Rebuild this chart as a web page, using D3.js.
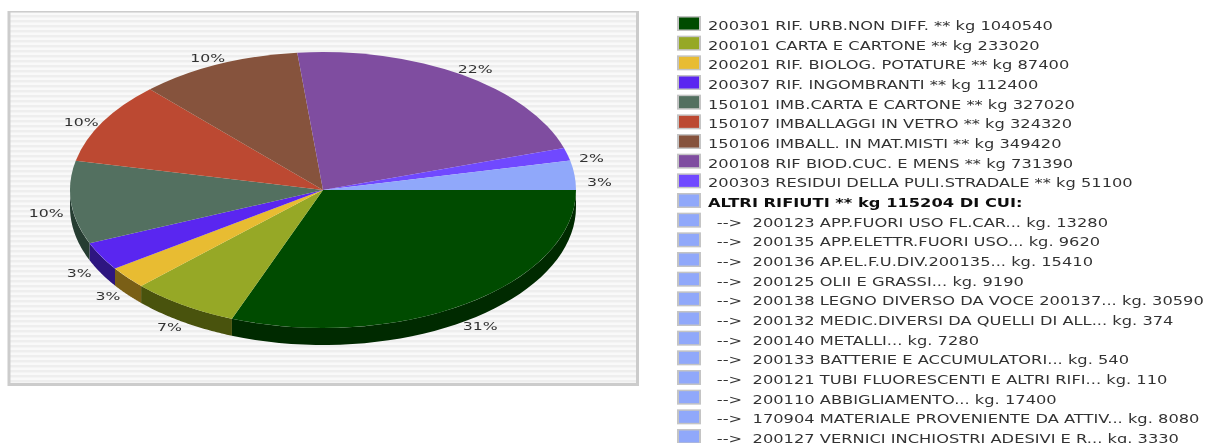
<!DOCTYPE html>
<html>
<head>
<meta charset="utf-8">
<script src="https://cdn.jsdelivr.net/npm/d3@7"></script>
<style>
  html, body { margin: 0; padding: 0; background: #fff; overflow: hidden; }
  svg { display: block; }
  text { font-family: "DejaVu Sans", sans-serif; }
</style>
</head>
<body>
<svg width="1209" height="443"></svg>
<script>
(function () {

	// slices, clockwise from 3 o'clock
	var sliceValues = [1040540, 233020, 87400, 112400, 327020, 324320, 349420, 731390, 51100, 115204];
	var sliceColors = ["#044c04", "#96a826", "#e8bc30", "#5a27f0", "#527060", "#bc4a30", "#86533c", "#7f4ea0", "#7048ff", "#90a8fa"];
	var sideColors = ["#002a00", "#4a5210", "#7a5f18", "#2e1480", "#263d33", "#5e2518", "#43291e", "#3f2750", "#382480", "#48547d"];
	var sliceLabels = ["31%", "7%", "3%", "3%", "10%", "10%", "10%", "22%", "2%", "3%"];

	var legendLabels = [
		"200301 RIF. URB.NON DIFF. ** kg 1040540",
		"200101 CARTA E CARTONE ** kg 233020",
		"200201 RIF. BIOLOG. POTATURE ** kg 87400",
		"200307 RIF. INGOMBRANTI ** kg 112400",
		"150101 IMB.CARTA E CARTONE ** kg 327020",
		"150107 IMBALLAGGI IN VETRO ** kg 324320",
		"150106 IMBALL. IN MAT.MISTI ** kg 349420",
		"200108 RIF BIOD.CUC. E MENS ** kg 731390",
		"200303 RESIDUI DELLA PULI.STRADALE ** kg 51100",
		"ALTRI RIFIUTI ** kg 115204 DI CUI:",
		"  -->  200123 APP.FUORI USO FL.CAR... kg. 13280",
		"  -->  200135 APP.ELETTR.FUORI USO... kg. 9620",
		"  -->  200136 AP.EL.F.U.DIV.200135... kg. 15410",
		"  -->  200125 OLII E GRASSI... kg. 9190",
		"  -->  200138 LEGNO DIVERSO DA VOCE 200137... kg. 30590",
		"  -->  200132 MEDIC.DIVERSI DA QUELLI DI ALL... kg. 374",
		"  -->  200140 METALLI... kg. 7280",
		"  -->  200133 BATTERIE E ACCUMULATORI... kg. 540",
		"  -->  200121 TUBI FLUORESCENTI E ALTRI RIFI... kg. 110",
		"  -->  200110 ABBIGLIAMENTO... kg. 17400",
		"  -->  170904 MATERIALE PROVENIENTE DA ATTIV... kg. 8080",
		"  -->  200127 VERNICI INCHIOSTRI ADESIVI E R... kg. 3330"
	];
	var legendColors = sliceColors.concat(d3.range(12).map(function () { return "#90a8fa"; }));

	var svg = d3.select("svg");

	var defs = svg.append("defs");
	defs.append("filter").attr("id", "soft")
		.attr("x", "-5%").attr("y", "-5%").attr("width", "110%").attr("height", "110%")
		.append("feGaussianBlur").attr("stdDeviation", 0.5);

	var pattern = defs.append("pattern").attr("id", "stripes")
		.attr("patternUnits", "userSpaceOnUse")
		.attr("width", 10).attr("height", 5);
	pattern.append("rect").attr("width", 10).attr("height", 5).attr("fill", "#f9f9f9");
	pattern.append("rect").attr("width", 10).attr("height", 2.4).attr("fill", "#eeeeee");

	// panel
	var panel = svg.append("g").attr("filter", "url(#soft)");
	panel.append("rect").attr("x", 7.5).attr("y", 11).attr("width", 631.5).attr("height", 375).attr("fill", "#ccc");
	panel.append("rect").attr("x", 10.5).attr("y", 12.5).attr("width", 625.5).attr("height", 370.5).attr("fill", "url(#stripes)");

	// pie
	var cx = 323, cy = 190, rx = 253, ry = 138, depth = 17;

	var pie = d3.pie().sort(null).value(function (d) { return d; })
		.startAngle(Math.PI / 2).endAngle(Math.PI / 2 + 2 * Math.PI);
	var arcs = pie(sliceValues);

	var arc = d3.arc().innerRadius(0).outerRadius(rx);

	// d3 angle -> point on the ellipse
	function px(a) { return cx + rx * Math.sin(a); }
	function py(a) { return cy - ry * Math.cos(a); }

	// wall under the front half of the pie, only where it can be seen
	function sidePath(d) {
		var a0 = Math.max(d.startAngle, Math.PI / 2);
		var a1 = Math.min(d.endAngle, 3 * Math.PI / 2);
		if (a1 <= a0) return null;
		var steps = d3.range(0, 41).map(function (i) { return a0 + (a1 - a0) * i / 40; });
		var top = steps.map(function (a) { return [px(a), py(a)]; });
		var bottom = steps.slice().reverse().map(function (a) { return [px(a), py(a) + depth]; });
		return d3.line()(top.concat(bottom)) + "Z";
	}

	var pieG = svg.append("g").attr("filter", "url(#soft)");

	pieG.selectAll("path.side")
		.data(arcs)
		.enter()
		.append("path")
		.attr("class", "side")
		.attr("d", sidePath)
		.attr("fill", function (d, i) { return sideColors[i]; });

	pieG.append("g")
		.attr("transform", "translate(" + cx + "," + cy + ") scale(1," + (ry / rx) + ")")
		.selectAll("path.slice")
		.data(arcs)
		.enter()
		.append("path")
		.attr("class", "slice")
		.attr("d", arc)
		.attr("fill", function (d, i) { return sliceColors[i]; });

	// percent labels sit just outside the rim, lower toward the front
	var labelG = svg.append("g").attr("filter", "url(#soft)");
	labelG.selectAll("text")
		.data(arcs)
		.enter()
		.append("text")
		.attr("text-anchor", "middle")
		.attr("fill", "#333")
		.attr("font-size", 11)
		.attr("transform", function (d) {
			var a = (d.startAngle + d.endAngle) / 2;
			var lx = cx + (rx + 25) * Math.sin(a);
			var ly = cy - (ry + 8) * Math.cos(a) + depth * (0.5 - 0.5 * Math.cos(a));
			return "translate(" + lx + "," + (ly + 4) + ") scale(1.43,1)";
		})
		.text(function (d, i) { return sliceLabels[i]; });

	// legend
	var rowY = d3.scaleLinear().domain([0, 21]).range([24, 437]);

	var rows = svg.append("g").attr("filter", "url(#soft)")
		.selectAll("g")
		.data(legendLabels)
		.enter()
		.append("g")
		.attr("transform", function (d, i) { return "translate(0," + rowY(i) + ")"; });

	rows.append("rect")
		.attr("x", 677).attr("y", -8).attr("width", 24).attr("height", 15)
		.attr("fill", "#c4c4c4");
	rows.append("rect")
		.attr("x", 679).attr("y", -6.5).attr("width", 20).attr("height", 12)
		.attr("fill", function (d, i) { return legendColors[i]; });

	rows.append("text")
		.attr("transform", function (d, i) {
			return "translate(" + (i > 9 ? 706.5 : 708) + ",6) scale(1.38,1)";
		})
		.attr("xml:space", "preserve")
		.style("white-space", "pre")
		.attr("font-size", 11.8)
		.attr("font-weight", function (d, i) { return i === 9 ? "bold" : "normal"; })
		.attr("fill", function (d, i) { return i === 9 ? "#111" : "#333"; })
		.text(function (d) { return d; });

})();
</script>
</body>
</html>
